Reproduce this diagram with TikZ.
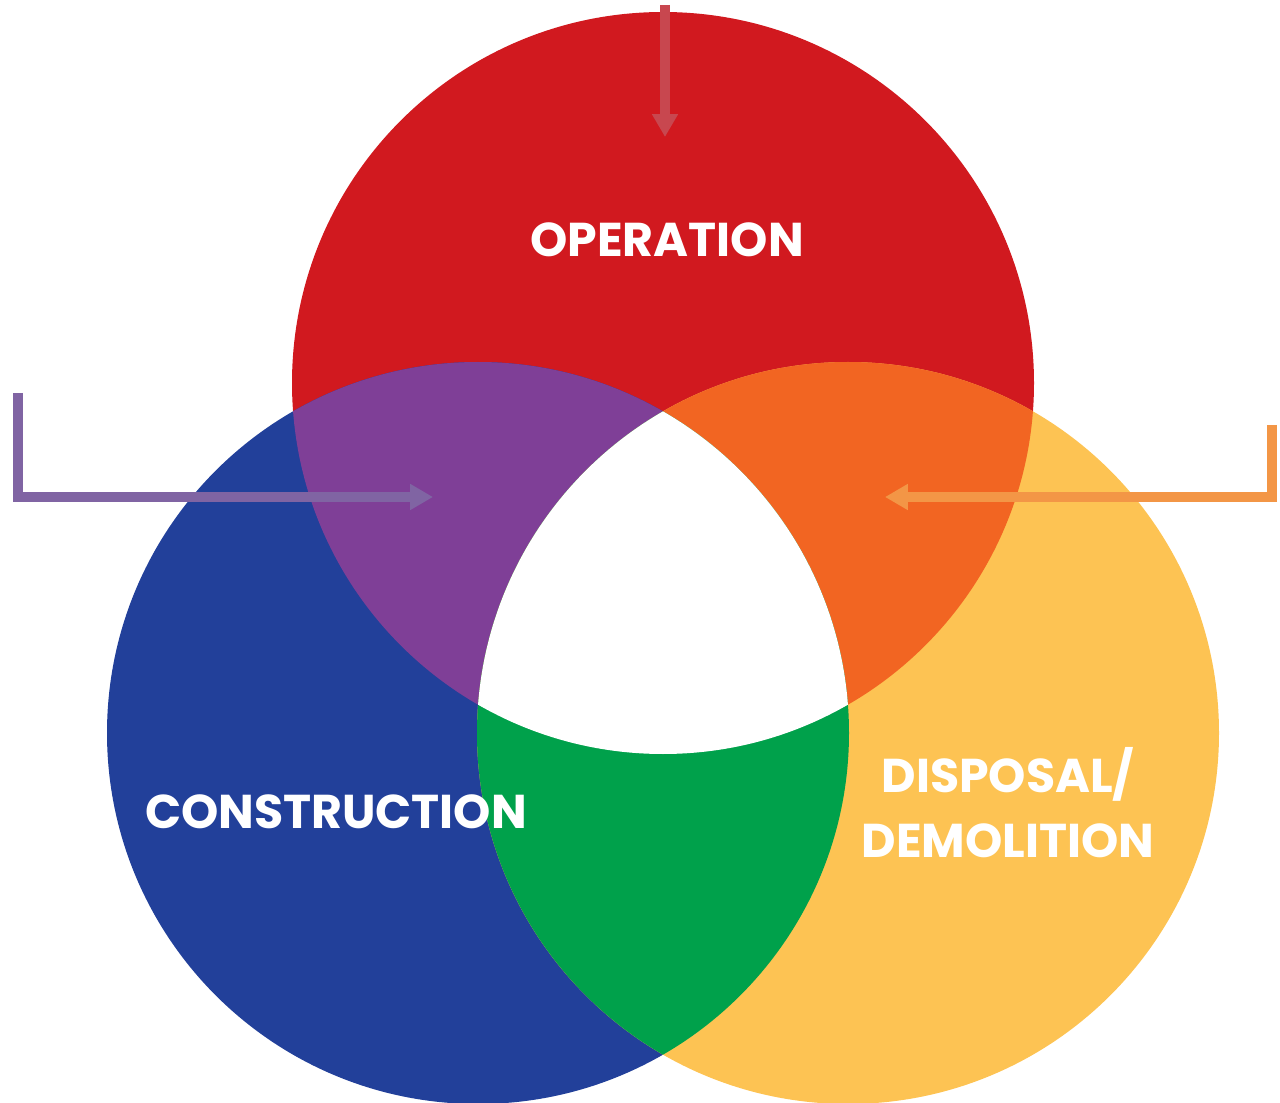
\documentclass[tikz,border=0pt]{standalone}
\usepackage{fontspec}
\setmainfont{Poppins}
\usetikzlibrary{arrows.meta}

\definecolor{opred}{HTML}{D1191F}
\definecolor{conblue}{HTML}{22409A}
\definecolor{disyellow}{HTML}{FDC353}
\definecolor{mixpurple}{HTML}{7F3F97}
\definecolor{mixorange}{HTML}{F26522}
\definecolor{mixgreen}{HTML}{00A14B}
\definecolor{arrred}{HTML}{C8474F}
\definecolor{arrpurple}{HTML}{8064A3}
\definecolor{arrorange}{HTML}{F39646}

\tikzset{
  phase/.style={text=white,font=\bfseries\fontsize{27}{37}\selectfont,align=center},
  pointer/.style={line width=1.9mm,-{Triangle[width=14pt,length=13pt]}}
}

\begin{document}
\begin{tikzpicture}[x=0.2mm,y=0.2mm]
\useasboundingbox (0,0) rectangle (1280,-1103);

% ---------- Centres of the three phases ----------
\def\R{371}
\coordinate (O) at (663,-383);
\coordinate (C) at (478,-733);
\coordinate (D) at (848,-733);

% ---------- Circles ----------
\fill[opred] (O) circle (\R);
\fill[conblue] (C) circle (\R);
\fill[disyellow] (D) circle (\R);

% ---------- Overlaps ----------
\begin{scope}
  \clip (O) circle (\R);
  \fill[mixpurple] (C) circle (\R);
  \fill[mixorange] (D) circle (\R);
\end{scope}
\begin{scope}
  \clip (C) circle (\R);
  \fill[mixgreen] (D) circle (\R);
  \clip (D) circle (\R);
  \fill[white] (O) circle (\R);
\end{scope}

% ---------- Labels ----------
\node[phase] (operation) at (667,-240) {OPERATION};
\node[phase] (construction) at (336,-812) {CONSTRUCTION};
\node[phase] (disposal) at (1008,-803) {DISPOSAL/\\DEMOLITION};

% ---------- Pointers ----------
\coordinate (optop) at (665,-5);
\coordinate (optip) at (665,-137);
\coordinate (contop) at (18,-393);
\coordinate (contip) at (433,-497);
\coordinate (distop) at (1272,-425);
\coordinate (distip) at (885,-497);

\draw[pointer,arrred] (optop) -- (optip);
\draw[pointer,arrpurple] (contop) |- (contip);
\draw[pointer,arrorange] (distop) |- (distip);

\end{tikzpicture}
\end{document}
